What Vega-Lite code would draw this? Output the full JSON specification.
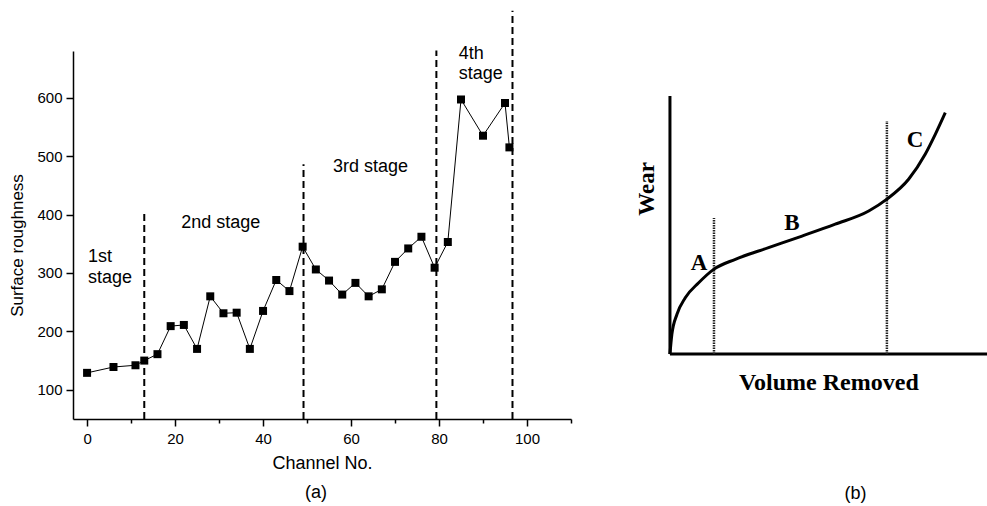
{
  "$schema": "https://vega.github.io/schema/vega-lite/v6.json",
  "padding": {"left": 8, "top": 9, "right": 0, "bottom": 0},
  "spacing": 30,
  "config": {"view": {"stroke": null}, "font": "Liberation Sans"},
  "datasets": {
    "roughness": [
      {"channel": 0, "roughness": 129}, {"channel": 6, "roughness": 139}, {"channel": 11, "roughness": 142},
      {"channel": 13, "roughness": 150}, {"channel": 16, "roughness": 161}, {"channel": 19, "roughness": 209},
      {"channel": 22, "roughness": 211}, {"channel": 25, "roughness": 170}, {"channel": 28, "roughness": 260},
      {"channel": 31, "roughness": 231}, {"channel": 34, "roughness": 232}, {"channel": 37, "roughness": 170},
      {"channel": 40, "roughness": 235}, {"channel": 43, "roughness": 288}, {"channel": 46, "roughness": 269},
      {"channel": 49, "roughness": 345}, {"channel": 52, "roughness": 306}, {"channel": 55, "roughness": 287},
      {"channel": 58, "roughness": 263}, {"channel": 61, "roughness": 283}, {"channel": 64, "roughness": 260},
      {"channel": 67, "roughness": 272}, {"channel": 70, "roughness": 319}, {"channel": 73, "roughness": 342},
      {"channel": 76, "roughness": 362}, {"channel": 79, "roughness": 309}, {"channel": 82, "roughness": 353},
      {"channel": 85, "roughness": 597}, {"channel": 90, "roughness": 535}, {"channel": 95, "roughness": 591},
      {"channel": 96, "roughness": 515}
    ],
    "stageLines": [
      {"x": 13.0, "y0": 50, "y1": 404},
      {"x": 49.2, "y0": 50, "y1": 486},
      {"x": 79.4, "y0": 50, "y1": 681},
      {"x": 96.7, "y0": 50, "y1": 749}
    ],
    "stageLabels": [
      {"x": 0.2, "y": 328, "label": "1st"},
      {"x": 0.2, "y": 292, "label": "stage"},
      {"x": 21.4, "y": 385, "label": "2nd stage"},
      {"x": 55.9, "y": 481, "label": "3rd stage"},
      {"x": 84.5, "y": 675, "label": "4th"},
      {"x": 84.5, "y": 640, "label": "stage"}
    ],
    "wearAxes": [
      {"x": 0, "y": 0, "x2": 0, "y2": 100},
      {"x": 0, "y": 0, "x2": 100, "y2": 0}
    ],
    "wearCurve": [
      {"x": 0, "y": 0}, {"x": 0.6, "y": 7.6}, {"x": 2.2, "y": 15.4}, {"x": 4.8, "y": 21.8},
      {"x": 9.0, "y": 27.6}, {"x": 13.7, "y": 32.8}, {"x": 20.5, "y": 36.7}, {"x": 30.9, "y": 41.2},
      {"x": 41.4, "y": 45.7}, {"x": 51.8, "y": 50.3}, {"x": 62.3, "y": 55.4}, {"x": 68.0, "y": 60.0},
      {"x": 74.8, "y": 67.7}, {"x": 80.0, "y": 77.4}, {"x": 83.2, "y": 85.2}, {"x": 86.3, "y": 93.5}
    ],
    "wearLines": [
      {"x": 13.8, "y0": 0, "y1": 52.7},
      {"x": 68.0, "y0": 0, "y1": 90.3}
    ],
    "wearLetters": [
      {"x": 9.1, "y": 35.3, "label": "A"},
      {"x": 38.2, "y": 50.8, "label": "B"},
      {"x": 76.8, "y": 82.9, "label": "C"}
    ],
    "wearTitleY": [{"x": -7.2, "y": 64, "label": "Wear"}],
    "wearTitleX": [{"x": 49.8, "y": -11.2, "label": "Volume Removed"}]
  },
  "hconcat": [
    {
      "width": 498,
      "height": 368,
      "title": {"text": "(a)", "orient": "bottom", "anchor": "middle", "fontSize": 18, "fontWeight": "normal", "font": "Liberation Sans", "offset": 12, "dx": -6, "color": "black"},
      "layer": [
        {
          "data": {"name": "roughness"},
          "mark": {"type": "line", "color": "black", "strokeWidth": 1},
          "encoding": {
            "x": {
              "field": "channel", "type": "quantitative",
              "scale": {"domain": [-3.2, 110], "nice": false, "zero": false},
              "axis": {
                "title": "Channel No.",
                "values": [0, 10, 20, 30, 40, 50, 60, 70, 80, 90, 100, 110],
                "labelExpr": "datum.value % 20 === 0 ? datum.label : ''",
                "tickSize": {"condition": {"test": "datum.value % 20 === 0", "value": 7}, "value": 4},
                "grid": false, "labelOverlap": false, "labelFlush": false,
                "domainColor": "black", "domainWidth": 1.5, "tickColor": "black", "tickWidth": 1.5,
                "labelColor": "black", "labelFontSize": 15, "labelFont": "Liberation Sans", "labelPadding": 5,
                "titleColor": "black", "titleFontSize": 18, "titleFontWeight": "normal", "titleFont": "Liberation Sans", "titlePadding": 8
              }
            },
            "y": {
              "field": "roughness", "type": "quantitative",
              "scale": {"domain": [50, 680], "nice": false, "zero": false},
              "axis": {
                "title": "Surface roughness",
                "values": [100, 150, 200, 250, 300, 350, 400, 450, 500, 550, 600, 650],
                "labelExpr": "datum.value % 100 === 0 ? datum.label : ''",
                "tickSize": {"condition": {"test": "datum.value % 100 === 0", "value": 7}, "value": 4},
                "grid": false, "labelOverlap": false, "labelFlush": false,
                "domainColor": "black", "domainWidth": 1.5, "tickColor": "black", "tickWidth": 1.5,
                "labelColor": "black", "labelFontSize": 15, "labelFont": "Liberation Sans", "labelPadding": 4,
                "titleColor": "black", "titleFontSize": 17, "titleFontWeight": "normal", "titleFont": "Liberation Sans", "titlePadding": 10,
                "titleY": 194
              }
            }
          }
        },
        {
          "data": {"name": "roughness"},
          "mark": {"type": "point", "shape": "square", "filled": true, "size": 64, "color": "black", "opacity": 1},
          "encoding": {
            "x": {"field": "channel", "type": "quantitative", "scale": {"domain": [-3.2, 110], "nice": false, "zero": false}},
            "y": {"field": "roughness", "type": "quantitative", "scale": {"domain": [50, 680], "nice": false, "zero": false}}
          }
        },
        {
          "data": {"name": "stageLines"},
          "mark": {"type": "rule", "color": "black", "strokeWidth": 2, "strokeDash": [7, 4]},
          "encoding": {
            "x": {"field": "x", "type": "quantitative", "scale": {"domain": [-3.2, 110], "nice": false, "zero": false}},
            "y": {"field": "y0", "type": "quantitative", "scale": {"domain": [50, 680], "nice": false, "zero": false}},
            "y2": {"field": "y1"}
          }
        },
        {
          "data": {"name": "stageLabels"},
          "mark": {"type": "text", "align": "left", "baseline": "middle", "fontSize": 18, "font": "Liberation Sans", "color": "black"},
          "encoding": {
            "x": {"field": "x", "type": "quantitative", "scale": {"domain": [-3.2, 110], "nice": false, "zero": false}},
            "y": {"field": "y", "type": "quantitative", "scale": {"domain": [50, 680], "nice": false, "zero": false}},
            "text": {"field": "label"}
          }
        }
      ]
    },
    {
      "width": 387,
      "height": 422,
      "title": {"text": "(b)", "orient": "bottom", "anchor": "middle", "fontSize": 18, "fontWeight": "normal", "font": "Liberation Sans", "offset": 12, "dx": 60, "color": "black"},
      "encoding": {
        "x": {"field": "x", "type": "quantitative", "scale": {"domain": [-21.3, 100], "nice": false, "zero": false}, "axis": null},
        "y": {"field": "y", "type": "quantitative", "scale": {"domain": [-46.1, 117.4], "nice": false, "zero": false}, "axis": null}
      },
      "layer": [
        {
          "data": {"name": "wearAxes"},
          "mark": {"type": "rule", "color": "black", "strokeWidth": 3},
          "encoding": {"x2": {"field": "x2"}, "y2": {"field": "y2"}}
        },
        {
          "data": {"name": "wearLines"},
          "mark": {"type": "rule", "color": "#222", "strokeWidth": 2.5, "strokeDash": [1.5, 1]},
          "encoding": {
            "y": {"field": "y0", "type": "quantitative", "scale": {"domain": [-46.1, 117.4], "nice": false, "zero": false}, "axis": null},
            "y2": {"field": "y1"}
          }
        },
        {
          "data": {"name": "wearCurve"},
          "mark": {"type": "line", "color": "black", "strokeWidth": 3, "interpolate": "monotone"},
          "encoding": {}
        },
        {
          "data": {"name": "wearLetters"},
          "mark": {"type": "text", "align": "center", "baseline": "middle", "fontSize": 23, "font": "Liberation Serif", "fontWeight": "bold", "color": "black"},
          "encoding": {"text": {"field": "label"}}
        },
        {
          "data": {"name": "wearTitleY"},
          "mark": {"type": "text", "align": "center", "baseline": "middle", "angle": 270, "fontSize": 23, "font": "Liberation Serif", "fontWeight": "bold", "color": "black"},
          "encoding": {"text": {"field": "label"}}
        },
        {
          "data": {"name": "wearTitleX"},
          "mark": {"type": "text", "align": "center", "baseline": "middle", "fontSize": 24, "font": "Liberation Serif", "fontWeight": "bold", "color": "black"},
          "encoding": {"text": {"field": "label"}}
        }
      ]
    }
  ]
}
